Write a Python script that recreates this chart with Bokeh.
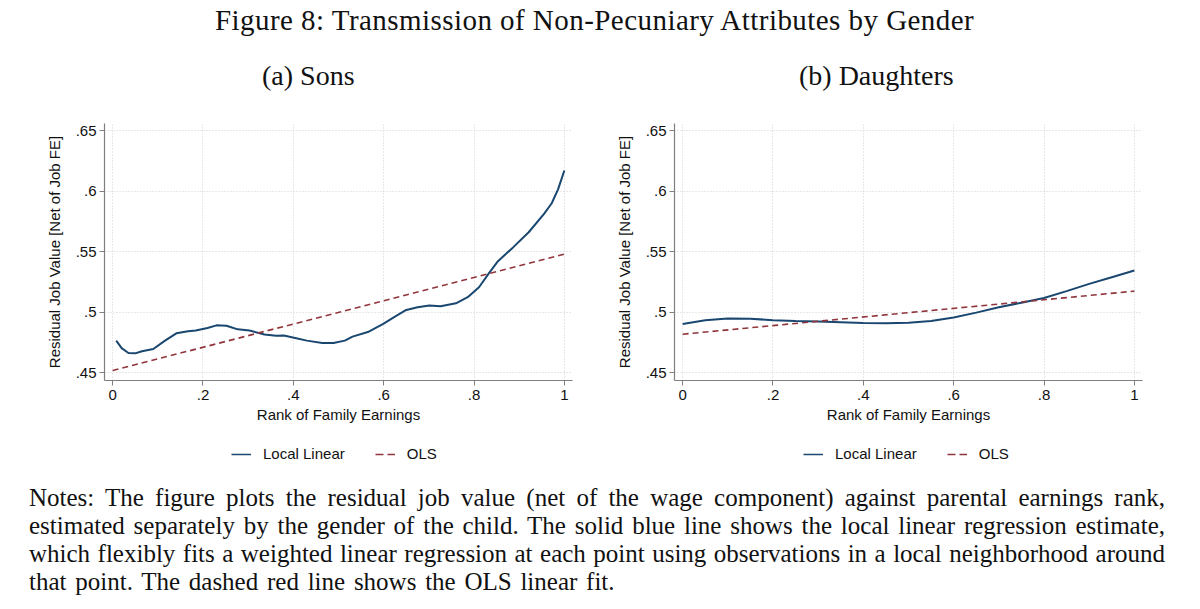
from bokeh.plotting import figure
from bokeh.models import Div, Legend, LegendItem, Range1d, FixedTicker
from bokeh.layouts import column, row
from bokeh.embed import file_html
from bokeh.resources import INLINE

# ---------------- data ----------------
sons_rank = [0.008, 0.02, 0.035, 0.05, 0.065, 0.09, 0.116, 0.141, 0.167, 0.184,
             0.21, 0.23, 0.252, 0.277, 0.303, 0.336, 0.362, 0.379, 0.404, 0.43,
             0.464, 0.489, 0.514, 0.531, 0.565, 0.599, 0.625, 0.65, 0.675, 0.701,
             0.726, 0.76, 0.786, 0.811, 0.832, 0.853, 0.887, 0.921, 0.955, 0.972,
             0.986, 1.0]
sons_local = [0.4767, 0.4705, 0.4665, 0.4662, 0.4679, 0.4698, 0.4767, 0.4827, 0.4844, 0.4850,
              0.4871, 0.4893, 0.4890, 0.4860, 0.4850, 0.4817, 0.4808, 0.4810, 0.4789, 0.4767,
              0.4748, 0.4748, 0.4767, 0.4800, 0.4838, 0.4905, 0.4965, 0.5020, 0.5042, 0.5056,
              0.5050, 0.5075, 0.5125, 0.5207, 0.5317, 0.5422, 0.5538, 0.5661, 0.5813, 0.5900,
              0.6015, 0.6170]
daughters_rank = [0.0, 0.05, 0.1, 0.15, 0.2, 0.25, 0.3, 0.35, 0.4, 0.45, 0.5,
                  0.55, 0.6, 0.65, 0.7, 0.75, 0.8, 0.85, 0.9, 0.95, 1.0]
daughters_local = [0.4904, 0.4935, 0.4949, 0.4948, 0.4935, 0.4928, 0.4924, 0.4918, 0.4912, 0.4911, 0.4915,
                   0.4928, 0.4958, 0.4998, 0.5042, 0.5080, 0.5119, 0.5175, 0.5235, 0.5290, 0.5345]
ols_rank = [0.0, 1.0]
sons_ols = [0.452, 0.548]
daughters_ols = [0.482, 0.5175]

x_ticks = [0.0, 0.2, 0.4, 0.6, 0.8, 1.0]
x_tick_labels = ["0", ".2", ".4", ".6", ".8", "1"]
y_ticks = [0.45, 0.5, 0.55, 0.6, 0.65]
y_tick_labels = [".45", ".5", ".55", ".6", ".65"]

title_text = "Figure 8: Transmission of Non-Pecuniary Attributes by Gender"
panel_titles = ["(a) Sons", "(b) Daughters"]
x_label = "Rank of Family Earnings"
y_label = "Residual Job Value [Net of Job FE]"
legend_labels = ["Local Linear", "OLS"]
notes_lines = [
    "Notes: The figure plots the residual job value (net of the wage component) against parental earnings rank,",
    "estimated separately by the gender of the child. The solid blue line shows the local linear regression estimate,",
    "which flexibly fits a weighted linear regression at each point using observations in a local neighborhood around",
    "that point. The dashed red line shows the OLS linear fit.",
]

BLUE = "#1a476f"
RED = "#90353b"
AXIS = "#7f7f7f"
SANS = "Liberation Sans"
SERIF = "Liberation Serif"
NAN = float("nan")


def make_panel(xs, ys, ols_y, border_left, border_right):
    p = figure(width=600, height=332,
               x_range=Range1d(-0.018, 1.018), y_range=Range1d(0.4438, 0.6558),
               min_border_left=border_left, min_border_right=border_right,
               min_border_top=23, min_border_bottom=52,
               output_backend="svg", toolbar_location=None)
    p.outline_line_color = None
    p.background_fill_color = "white"
    p.border_fill_color = "white"

    p.line(xs, ys, line_color=BLUE, line_width=2)
    p.line(ols_rank, ols_y, line_color=RED, line_width=1.6, line_dash="6 4")

    for ax in (p.xaxis[0], p.yaxis[0]):
        ax.axis_line_color = AXIS
        ax.axis_line_width = 1.2
        ax.major_tick_line_color = AXIS
        ax.major_tick_in = 0
        ax.major_tick_out = 5
        ax.minor_tick_line_color = None
        ax.major_label_text_font = SANS
        ax.major_label_text_font_size = "15px"
        ax.major_label_text_color = "#111111"
        ax.axis_label_text_font = SANS
        ax.axis_label_text_font_size = "15px"
        ax.axis_label_text_font_style = "normal"
        ax.axis_label_text_color = "#111111"

    p.xaxis.ticker = FixedTicker(ticks=x_ticks)
    p.xaxis.major_label_overrides = {t: l for t, l in zip(x_ticks, x_tick_labels)}
    p.xaxis.axis_label = x_label
    p.xaxis.major_label_standoff = 4
    p.xaxis.axis_label_standoff = 3

    p.yaxis.ticker = FixedTicker(ticks=y_ticks)
    p.yaxis.major_label_overrides = {t: l for t, l in zip(y_ticks, y_tick_labels)}
    p.yaxis.axis_label = y_label
    p.yaxis.major_label_standoff = 3
    p.yaxis.axis_label_standoff = 10

    for g in (p.xgrid[0], p.ygrid[0]):
        g.grid_line_color = "#d0d0d0"
        g.grid_line_width = 1
        g.grid_line_dash = "1 2"
    p.xgrid.ticker = FixedTicker(ticks=x_ticks)
    p.ygrid.ticker = FixedTicker(ticks=y_ticks)
    return p


def make_legend_strip(box_x):
    lf = figure(width=600, height=48, x_range=Range1d(0, 600), y_range=Range1d(0, 48),
                min_border_left=0, min_border_right=0, min_border_top=0, min_border_bottom=0,
                output_backend="svg", toolbar_location=None)
    lf.axis.visible = False
    lf.grid.visible = False
    lf.outline_line_color = None
    lf.background_fill_color = "white"
    lf.border_fill_color = "white"
    # legend keys only (NaN points draw nothing in the strip itself)
    k1 = lf.line(x=[NAN], y=[NAN], line_color=BLUE, line_width=1.5)
    k2 = lf.line(x=[NAN], y=[NAN], line_color=RED, line_width=1.3, line_dash="8 4")
    legend = Legend(items=[LegendItem(label=legend_labels[0], renderers=[k1]),
                           LegendItem(label=legend_labels[1], renderers=[k2])],
                    orientation="horizontal", location=(box_x, 18),
                    border_line_color=None, background_fill_alpha=0,
                    label_text_font=SANS, label_text_font_size="15px",
                    label_text_color="#111111",
                    glyph_width=20, glyph_height=16, label_standoff=12,
                    spacing=30, padding=4, margin=0)
    lf.add_layout(legend, "center")
    return lf


p1 = make_panel(sons_rank, sons_local, sons_ols, 104, 28)
p2 = make_panel(daughters_rank, daughters_local, daughters_ols, 74, 58)
l1 = make_legend_strip(231)
l2 = make_legend_strip(203)

header_html = (
    '<div style="position:relative;width:1200px;height:100px;">'
    f'<div style="position:absolute;left:215px;top:5.7px;white-space:nowrap;'
    f'font-family:\'{SERIF}\';font-size:29px;line-height:29px;letter-spacing:0.45px;color:#111;">{title_text}</div>'
    f'<div style="position:absolute;left:262px;top:61.5px;white-space:nowrap;'
    f'font-family:\'{SERIF}\';font-size:28px;line-height:28px;color:#111;">{panel_titles[0]}</div>'
    f'<div style="position:absolute;left:799px;top:61.5px;white-space:nowrap;'
    f'font-family:\'{SERIF}\';font-size:28px;line-height:28px;color:#111;">{panel_titles[1]}</div>'
    '</div>'
)
header = Div(text=header_html, width=1200, height=100, margin=0)

line_divs = []
for i, ln in enumerate(notes_lines):
    last = i == len(notes_lines) - 1
    align = "left" if last else "justify"
    ws = "word-spacing:2.5px;" if last else ""
    line_divs.append(
        f'<div style="width:1136px;text-align:{align};text-align-last:{align};{ws}'
        f'font-family:\'{SERIF}\';font-size:25px;line-height:27.8px;height:27.8px;color:#111;">{ln}</div>'
    )
notes_html = ('<div style="position:relative;width:1200px;height:129px;">'
              '<div style="position:absolute;left:29px;top:4.4px;">' + "".join(line_divs) + '</div></div>')
notes = Div(text=notes_html, width=1200, height=129, margin=0)

layout = column(header, row(p1, p2, spacing=0), row(l1, l2, spacing=0), notes, spacing=0)

with open("out.html", "w") as f:
    f.write(file_html(layout, INLINE, title="Figure 8"))
